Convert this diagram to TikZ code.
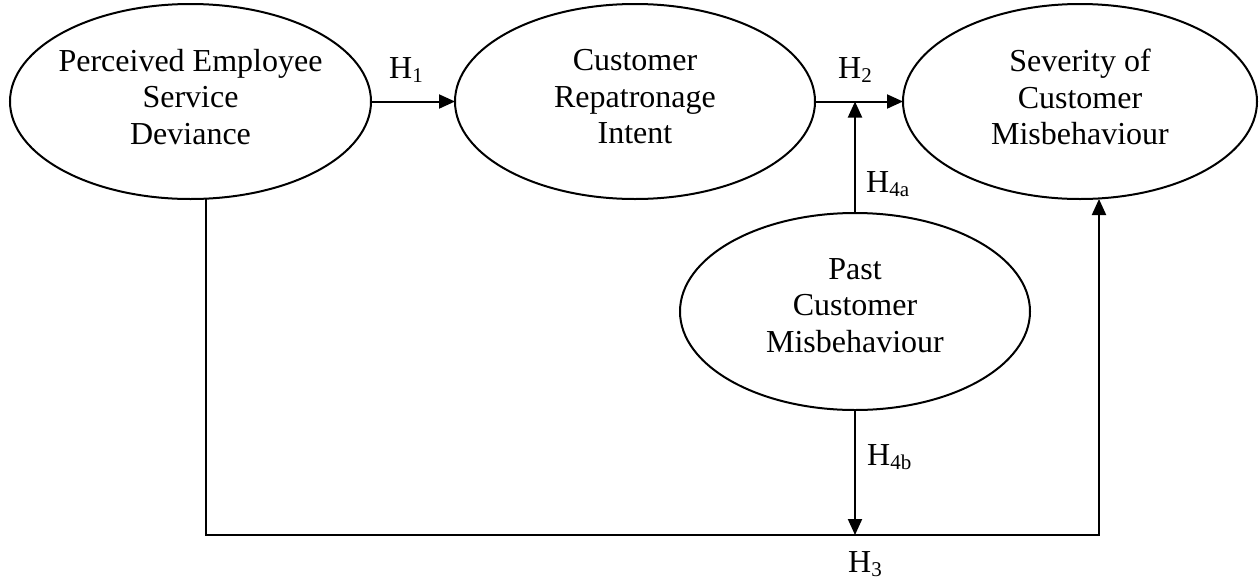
\documentclass[tikz,border=0pt]{standalone}
\usepackage{fontspec}
\setmainfont{Liberation Serif}
\usetikzlibrary{shapes.geometric,arrows.meta}
\newcommand\hsub[1]{\raisebox{-4pt}{\fontsize{21}{21}\selectfont #1}}
\tikzset{
  oval/.style={draw, ellipse, line width=2pt, inner sep=0pt, outer sep=0pt},
  ovaltext/.style={align=center, inner sep=0pt, font=\fontsize{32}{36.5}\selectfont},
  conn/.style={line width=2pt},
  arr/.style={conn, -{Triangle[length=16pt,width=14pt]}},
  hlab/.style={anchor=base west, inner sep=0pt, font=\fontsize{32}{36}\selectfont}
}
\begin{document}
\begin{tikzpicture}[x=1pt,y=-1pt]
\useasboundingbox (0,0) rectangle (1259,579);
% ovals
\node[oval, minimum width=361pt, minimum height=195pt] (e1) at (190.5,101.5) {};
\node[oval, minimum width=360pt, minimum height=195pt] (e2) at (635,101.5) {};
\node[oval, minimum width=354pt, minimum height=195pt] (e3) at (1080,101.5) {};
\node[oval, minimum width=350pt, minimum height=197pt] (e4) at (855,311.5) {};
% texts
\node[ovaltext] (t1) at ([yshift=4.5pt]e1.center) {Perceived Employee\\Service\\Deviance};
\node[ovaltext] (t2) at ([yshift=4.5pt]e2.center) {Customer\\Repatronage\\Intent};
\node[ovaltext] (t3) at ([yshift=4.5pt]e3.center) {Severity of\\Customer\\Misbehaviour};
\node[ovaltext] (t4) at ([yshift=6pt]e4.center) {Past\\Customer\\Misbehaviour};
% helper coordinates
\coordinate (c1) at (206,535);
\coordinate (c2) at (1099,535);
% connectors
\draw[arr] (e1.east) -- (e2.west);
\draw[arr] (e2.east) -- (e3.west);
\draw[arr] (e4.north) -- (e4.north |- e2.east);
\draw[arr] (e4.south) -- (e4.south |- c1);
\draw[arr] (e1.south -| c1) -- (c1) -- (c2) -- (e3.south -| c2);
% labels
\node[hlab] (h1) at (389,78) {H\hsub{1}};
\node[hlab] (h2) at (838,78) {H\hsub{2}};
\node[hlab] (h4a) at (866,192) {H\hsub{4a}};
\node[hlab] (h4b) at (867,465) {H\hsub{4b}};
\node[hlab] (h3) at (848,572) {H\hsub{3}};
\end{tikzpicture}
\end{document}
